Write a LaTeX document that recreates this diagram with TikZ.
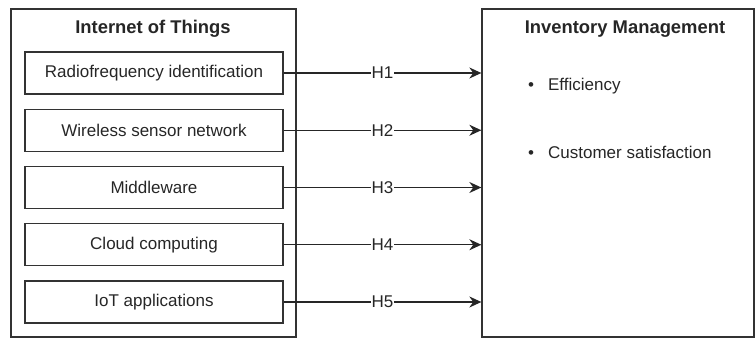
\documentclass[tikz,border=0pt]{standalone}
\usepackage{fontspec}
\setmainfont{Liberation Sans}
\usetikzlibrary{arrows.meta}

\begin{document}
\begin{tikzpicture}[x=1pt,y=-1pt,
  frame/.style={draw=black!80,line width=1.3pt,text=black!85},
  item/.style={frame,minimum width=258pt,minimum height=42pt,font=\fontsize{17}{20}\selectfont},
  head/.style={text=black!85,font=\fontsize{18.4}{22}\selectfont\bfseries},
  arr/.style={draw=black!85,line width=1.3pt,-{Stealth[length=12pt,width=11pt]}}]
\useasboundingbox (0,0) rectangle (755,339);
% the two outer frames
\node[frame,minimum width=285pt,minimum height=328pt] (iot) at (153.5,173) {};
\node[frame,minimum width=272pt,minimum height=328pt] (inv) at (618,173) {};
\node[head] (iott) at (153,29) {Internet of Things};
\node[head] (invt) at (625,29) {Inventory Management};
%\node at (0,0) {};
\foreach \t [count=\i] in {Radiofrequency identification,Wireless sensor network,Middleware,Cloud computing,IoT applications}
\node[item] (f\i) at (154,73+57.25*\i-57.25) {\t};
\foreach \i in {1,...,5}
\draw[arr] (f\i.east) -- (f\i.east -| inv.west) node[midway,fill=white,inner sep=1pt,text=black!85,font=\fontsize{17}{20}\selectfont] (h\i) {H\i};
\node[anchor=west,inner sep=0pt,text=black!85,font=\fontsize{17}{20}\selectfont] (eff) at (528,86) {\textbullet\hspace{14pt}Efficiency};
\node[anchor=west,inner sep=0pt,text=black!85,font=\fontsize{17}{20}\selectfont] (cs) at (528,152) {\textbullet\hspace{14pt}Customer satisfaction};
\end{tikzpicture}
\end{document}
